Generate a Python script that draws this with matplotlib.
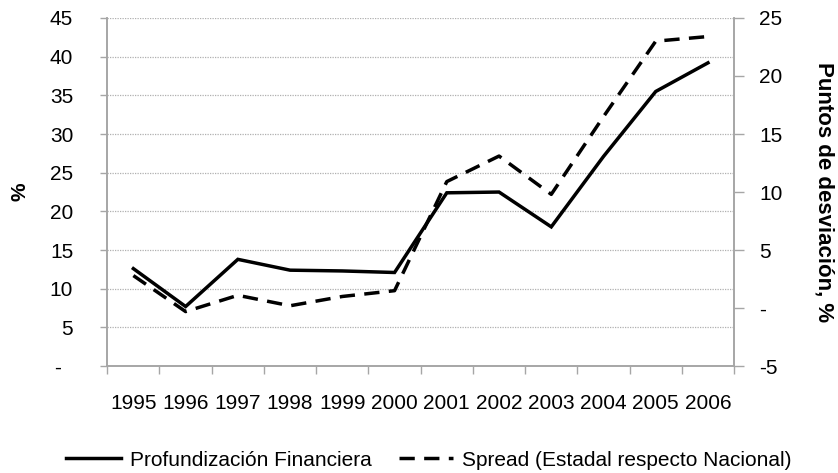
import matplotlib
matplotlib.use("Agg")
import matplotlib.pyplot as plt
import numpy as np
from matplotlib.ticker import FixedLocator

plt.rcParams.update(
    {
        "font.family": ["Liberation Sans", "DejaVu Sans"],
        "font.size": 15,
        "figure.facecolor": "1.00",
    }
)

# ---- data ----
years = ["1995", "1996", "1997", "1998", "1999", "2000",
         "2001", "2002", "2003", "2004", "2005", "2006"]
profundizacion = [12.6, 7.7, 13.8, 12.4, 12.3, 12.1,
                  22.4, 22.5, 18.0, 27.1, 35.5, 39.2]
spread = [2.8, -0.3, 1.1, 0.2, 1.0, 1.5,
          10.9, 13.1, 9.8, 16.5, 23.0, 23.4]

left_ticks = [0, 5, 10, 15, 20, 25, 30, 35, 40, 45]
left_labels = ["-  ", "5", "10", "15", "20", "25", "30", "35", "40", "45"]
right_ticks = [-5, 0, 5, 10, 15, 20, 25]
right_labels = ["-5", "-", "5", "10", "15", "20", "25"]

axis_grey = "#a6a6a6"

fig, ax = plt.subplots(figsize=(8.38, 4.73), dpi=100)
fig.subplots_adjust(left=0.128, right=0.876, top=0.962, bottom=0.226)
ax2 = ax.twinx()

x = np.arange(len(years))
l1, = ax.plot(x, profundizacion, color="black", lw=2.5,
              solid_joinstyle="miter", label="Profundización Financiera")
l2, = ax2.plot(x, spread, color="black", lw=2.5, dashes=(4.4, 2.7),
               label="Spread (Estadal respecto Nacional)")

ax.set_xlim(-0.5, len(years) - 0.5)
ax.set_ylim(0, 45)
ax2.set_ylim(-5, 25)

# category labels at centres, tick marks at boundaries
ax.set_xticks(x)
ax.set_xticklabels(years)
ax.xaxis.set_minor_locator(FixedLocator(np.arange(-0.5, len(years), 1.0)))
ax.tick_params(axis="x", which="major", length=0, pad=20)
ax.tick_params(axis="x", which="minor", length=6, color=axis_grey, width=1)

ax.set_yticks(left_ticks)
ax.set_yticklabels(left_labels)
ax.tick_params(axis="y", length=5, color=axis_grey, width=1, pad=19.5)
ax2.set_yticks(right_ticks)
ax2.set_yticklabels(right_labels)
ax2.tick_params(axis="y", length=7, color=axis_grey, width=1, pad=11)

ax.yaxis.grid(True, linestyle=(0, (1, 1)), color="#b0b0b0", lw=0.9)
ax.set_axisbelow(True)

for a in (ax, ax2):
    a.spines["top"].set_visible(False)
    for s in ("left", "right", "bottom"):
        a.spines[s].set_color(axis_grey)
        a.spines[s].set_linewidth(1.2)

ax.set_ylabel("%", fontweight="bold", labelpad=15)
ax2.set_ylabel("Puntos de desviación, %", fontweight="bold", fontsize=16,
               rotation=-90, labelpad=22, va="bottom")

fig.legend(handles=[l1, l2], loc="center", ncol=2, frameon=False,
           bbox_to_anchor=(0.512, 0.027), handlelength=2.6, handletextpad=0.45,
           columnspacing=1.3, fontsize=15)

fig.savefig("out.png", dpi=100)
